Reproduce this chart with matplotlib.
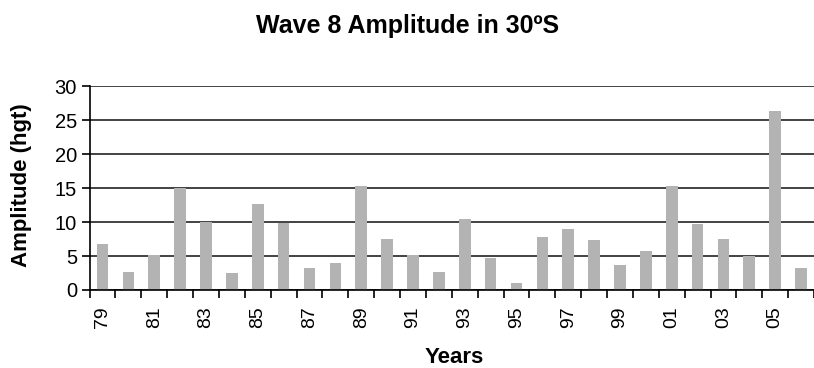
import numpy as np
import matplotlib
matplotlib.use("Agg")
import matplotlib.pyplot as plt

# Jahre (zweistellig) und Amplituden
years = ["79", "80", "81", "82", "83", "84", "85", "86", "87", "88",
         "89", "90", "91", "92", "93", "94", "95", "96", "97", "98",
         "99", "00", "01", "02", "03", "04", "05", "06"]
amplitude = [6.8, 2.7, 5.2, 15.0, 10.0, 2.5, 12.6, 9.8, 3.2, 4.0,
             15.3, 7.5, 5.1, 2.7, 10.5, 4.7, 1.1, 7.8, 9.0, 7.3,
             3.7, 5.7, 15.3, 9.75, 7.5, 5.0, 26.4, 3.2]
yticks = [0, 5, 10, 15, 20, 25, 30]

plt.rcParams['font.family'] = ['Liberation Sans', 'DejaVu Sans']

fig = plt.figure(figsize=(8.14, 3.68), dpi=100)
ax = fig.add_axes([0.110, 0.212, 0.890, 0.554])

x = np.arange(len(years))
ax.bar(x, amplitude, width=0.45, color='#b3b3b3', zorder=3)

ax.set_xlim(-0.5, len(years) - 0.5)
ax.set_ylim(0, 30)
ax.set_yticks(yticks)
ax.yaxis.grid(True, color='#222222', linewidth=1.2, zorder=1)

# Beschriftung nur jedes zweite Jahr, Striche zwischen den Kategorien
ax.set_xticks(x[::2])
ax.set_xticklabels(years[::2], rotation=90, fontsize=14)
ax.set_xticks(np.arange(len(years) + 1) - 0.5, minor=True)
ax.tick_params(axis='x', which='major', length=0, pad=12)
ax.tick_params(axis='x', which='minor', length=6, width=1.2, direction='out')
ax.tick_params(axis='y', length=6, width=1.2, labelsize=14.5, pad=3)

for s in ['top', 'right']:
    ax.spines[s].set_visible(False)
for s in ['left', 'bottom']:
    ax.spines[s].set_linewidth(1.2)
    ax.spines[s].set_zorder(4)

fig.text(0.5006, 1 - 32.5 / 368, "Wave 8 Amplitude in 30ºS", fontsize=18,
         fontweight='bold', ha='center', va='baseline')
ax.set_ylabel("Amplitude (hgt)", fontsize=16, fontweight='bold')
ax.yaxis.set_label_coords(-0.079, 0.515)
ax.set_xlabel("Years", fontsize=16, fontweight='bold')
ax.xaxis.set_label_coords(0.503, -0.279)

fig.savefig("out.png", dpi=100)
